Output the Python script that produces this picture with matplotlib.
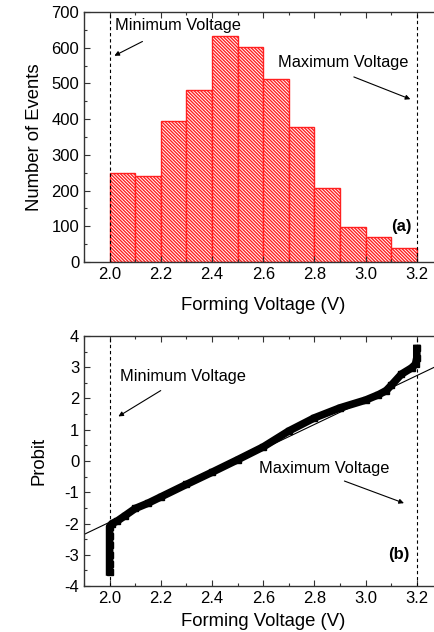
import numpy as np
import matplotlib
matplotlib.use("Agg")
import matplotlib.pyplot as plt
from matplotlib.ticker import MultipleLocator

plt.rcParams['font.family'] = ['Liberation Sans', 'DejaVu Sans']
plt.rcParams['hatch.linewidth'] = 1.0
plt.rcParams['axes.unicode_minus'] = False

# histograma (a)
bin_left = [2.0, 2.1, 2.2, 2.3, 2.4, 2.5, 2.6, 2.7, 2.8, 2.9, 3.0, 3.1]
contagens = [250, 242, 396, 481, 632, 603, 512, 378, 208, 98, 70, 40]
largura_bin = 0.1

# curva probit (b)
tensao = [2.0, 2.0, 2.0, 2.0, 2.0, 2.0, 2.01, 2.03, 2.06, 2.10, 2.15, 2.20,
          2.30, 2.40, 2.50, 2.60, 2.70, 2.80, 2.90, 3.00, 3.05, 3.08, 3.10,
          3.14, 3.18, 3.195, 3.20, 3.20]
probit = [-3.55, -3.3, -3.0, -2.7, -2.4, -2.1, -2.0, -1.92, -1.75, -1.52,
          -1.35, -1.15, -0.75, -0.36, 0.04, 0.45, 0.96, 1.38, 1.70, 1.95,
          2.12, 2.25, 2.42, 2.78, 2.98, 3.1, 3.3, 3.6]

# reta de ajuste
ajuste_inclinacao = 3.91
ajuste_intercepto = -2.35 - 3.91 * 1.9

v_min, v_max = 2.0, 3.2
xlim = (1.9, 3.3)

fig = plt.figure(figsize=(4.35, 6.32), dpi=100)
ax1 = fig.add_axes([84/435, 1 - 262/632, 358.4/435, 250/632])
ax2 = fig.add_axes([84/435, 1 - 586/632, 358.4/435, 250/632])

vermelho = "#ff2020"

ax1.bar(bin_left, contagens, width=largura_bin, align="edge",
        facecolor="white", edgecolor=vermelho, hatch="\\" * 10, linewidth=1.0)

for ax in (ax1, ax2):
    ax.axvline(v_min, color="black", linestyle=(0, (3, 2.5)), linewidth=0.8)
    ax.axvline(v_max, color="black", linestyle=(0, (3, 2.5)), linewidth=0.8)
    ax.set_xlim(*xlim)
    ax.xaxis.set_major_locator(MultipleLocator(0.2))
    ax.xaxis.set_minor_locator(MultipleLocator(0.1))
    ax.tick_params(which="both", direction="in", top=True, right=True,
                   labelsize=12, color="#333333", width=0.8)
    ax.tick_params(which="major", length=4)
    ax.tick_params(which="minor", length=2.5)
    for s in ax.spines.values():
        s.set_linewidth(1.0)
        s.set_color("#333333")
    ax.set_xlabel("Forming Voltage (V)", fontsize=13.3, labelpad=5)

ax1.set_ylim(0, 700)
ax1.yaxis.set_major_locator(MultipleLocator(100))
ax1.yaxis.set_minor_locator(MultipleLocator(50))
ax1.set_ylabel("Number of Events", fontsize=13.3, labelpad=6)
ax1.xaxis.labelpad = 11

ax1.text(2.021, 661, "Minimum Voltage", fontsize=11.8, va="center")
ax1.annotate("", xy=(2.009, 574), xytext=(2.138, 621),
             arrowprops=dict(arrowstyle="-|>", color="black", lw=0.8,
                             mutation_scale=7))
ax1.text(2.658, 560, "Maximum Voltage", fontsize=11.8, va="center")
ax1.annotate("", xy=(3.185, 453), xytext=(2.944, 521),
             arrowprops=dict(arrowstyle="-|>", color="black", lw=0.8,
                             mutation_scale=7))
ax1.text(3.181, 98, "(a)", fontsize=12, fontweight="bold", ha="right", va="center")

# probit
xs = np.array(xlim)
ax2.plot(xs, ajuste_intercepto + ajuste_inclinacao * xs, color="black", linewidth=0.8)
ax2.plot(tensao, probit, color="black", linewidth=5.5, marker="s",
         markersize=5, solid_joinstyle="round")

ax2.set_ylim(-4, 4)
ax2.yaxis.set_major_locator(MultipleLocator(1))
ax2.yaxis.set_minor_locator(MultipleLocator(0.5))
ax2.set_ylabel("Probit", fontsize=13.3, labelpad=12)
ax2.xaxis.labelpad = 5

ax2.text(2.039, 2.70, "Minimum Voltage", fontsize=11.8, va="center")
ax2.annotate("", xy=(2.025, 1.38), xytext=(2.209, 2.30),
             arrowprops=dict(arrowstyle="-|>", color="black", lw=0.8,
                             mutation_scale=7))
ax2.text(2.582, -0.23, "Maximum Voltage", fontsize=11.8, va="center")
ax2.annotate("", xy=(3.16, -1.38), xytext=(2.907, -0.61),
             arrowprops=dict(arrowstyle="-|>", color="black", lw=0.8,
                             mutation_scale=7))
ax2.text(3.173, -3.0, "(b)", fontsize=12, fontweight="bold", ha="right", va="center")

fig.savefig("out.png", dpi=100)
